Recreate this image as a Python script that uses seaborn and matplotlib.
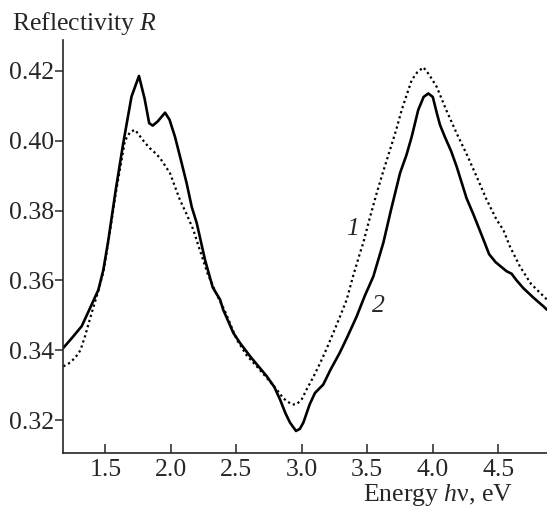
import matplotlib
matplotlib.use("Agg")
import matplotlib.pyplot as plt
import seaborn as sns
import pandas as pd

# Curve 2 (solid)
energy2 = [1.18, 1.256, 1.32, 1.396, 1.447, 1.485, 1.523, 1.58, 1.637, 1.70, 1.757,
           1.80, 1.835, 1.862, 1.90, 1.956, 1.99, 2.032, 2.08, 2.121, 2.16, 2.198,
           2.261, 2.32, 2.376, 2.40, 2.477, 2.528, 2.605, 2.665, 2.732, 2.79, 2.834,
           2.875, 2.91, 2.956, 2.985, 3.012, 3.06, 3.101, 3.164, 3.22, 3.29, 3.35,
           3.419, 3.48, 3.546, 3.622, 3.68, 3.75, 3.80, 3.839, 3.889, 3.93, 3.966,
           4.00, 4.03, 4.055, 4.093, 4.14, 4.182, 4.258, 4.309, 4.36, 4.399, 4.43, 4.48,
           4.564, 4.602, 4.64, 4.691, 4.77, 4.844, 4.872]
refl2 = [0.3407, 0.344, 0.3469, 0.3531, 0.3573, 0.363, 0.3715, 0.386, 0.3993, 0.4126, 0.4185,
         0.412, 0.405, 0.4043, 0.4055, 0.408, 0.406, 0.4011, 0.394, 0.3878, 0.381, 0.3764,
         0.3659, 0.358, 0.3545, 0.3516, 0.345, 0.3421, 0.3383, 0.3356, 0.3326, 0.3295, 0.3259,
         0.322, 0.3193, 0.3169, 0.3175, 0.3193, 0.3245, 0.3278, 0.3302, 0.3345, 0.3393, 0.344,
         0.3497, 0.3555, 0.3611, 0.3707, 0.380, 0.3907, 0.396, 0.4011, 0.4088, 0.4125, 0.4135,
         0.4125, 0.408, 0.4045, 0.401, 0.397, 0.3926, 0.3835, 0.379, 0.3742, 0.3705, 0.3675, 0.3652,
         0.3626, 0.3619, 0.3600, 0.3578, 0.355, 0.3526, 0.3516]

# Curve 1 (dotted)
energy1 = [1.18, 1.22, 1.269, 1.31, 1.345, 1.396, 1.447, 1.485, 1.523, 1.58, 1.65, 1.69,
           1.727, 1.77, 1.80, 1.841, 1.88, 1.918, 1.994, 2.03, 2.07, 2.12, 2.172, 2.21,
           2.28, 2.35, 2.41, 2.503, 2.58, 2.656, 2.73, 2.808, 2.86, 2.923, 2.96, 3.00,
           3.037, 3.09, 3.141, 3.19, 3.241, 3.29, 3.343, 3.39, 3.444, 3.469, 3.52, 3.572,
           3.62, 3.673, 3.72, 3.763, 3.80, 3.839, 3.88, 3.928, 3.97, 4.03, 4.10, 4.182,
           4.26, 4.335, 4.411, 4.488, 4.538, 4.589, 4.665, 4.75, 4.872]
refl1 = [0.3354, 0.3362, 0.3378, 0.340, 0.344, 0.3507, 0.357, 0.3625, 0.371, 0.385, 0.400, 0.4025,
         0.4031, 0.401, 0.3995, 0.3978, 0.3965, 0.395, 0.3907, 0.387, 0.383, 0.379, 0.3745, 0.370,
         0.362, 0.356, 0.3515, 0.3431, 0.3385, 0.3354, 0.3322, 0.3288, 0.3262, 0.3245, 0.3245, 0.326,
         0.3288, 0.3325, 0.3364, 0.3405, 0.345, 0.3495, 0.3545, 0.361, 0.3678, 0.3707, 0.378, 0.3850,
         0.391, 0.3973, 0.403, 0.4088, 0.413, 0.4173, 0.4195, 0.421, 0.419, 0.4154, 0.409, 0.4021,
         0.396, 0.3897, 0.3831, 0.3773, 0.3745, 0.3697, 0.364, 0.359, 0.3545]

x_ticks = [1.5, 2.0, 2.5, 3.0, 3.5, 4.0, 4.5]
x_tick_labels = ["1.5", "2.0", "2.5", "3.0", "3.5", "4.0", "4.5"]
y_ticks = [0.32, 0.34, 0.36, 0.38, 0.40, 0.42]
y_tick_labels = ["0.32", "0.34", "0.36", "0.38", "0.40", "0.42"]

sns.set_style("ticks")
plt.rcParams["font.family"] = ["Liberation Serif", "DejaVu Serif"]
plt.rcParams["mathtext.fontset"] = "custom"
plt.rcParams["mathtext.rm"] = "Liberation Serif"
plt.rcParams["mathtext.it"] = "Liberation Serif:italic"

fig = plt.figure(figsize=(5.47, 5.15), dpi=100)
ax = fig.add_axes([63 / 547, 1 - 453 / 515, 1 - 63 / 547, (453 - 40) / 515])

df1 = pd.DataFrame({"E": energy1, "R": refl1})
df2 = pd.DataFrame({"E": energy2, "R": refl2})
sns.lineplot(data=df1, x="E", y="R", ax=ax, sort=False, color="black",
             linewidth=1.6, linestyle=(0, (1, 1.4)))
sns.lineplot(data=df2, x="E", y="R", ax=ax, sort=False, color="black",
             linewidth=1.9)

ax.set_xlim(1.177, 4.872)
ax.set_ylim(0.3106, 0.4288)
ax.set_xticks(x_ticks)
ax.set_xticklabels(x_tick_labels)
ax.set_yticks(y_ticks)
ax.set_yticklabels(y_tick_labels)
ax.tick_params(axis="x", direction="in", length=6.5, width=1.1, pad=4, labelsize=18.5)
ax.tick_params(axis="y", direction="out", length=5.5, width=1.1, pad=1, labelsize=18.5)
for s in ["top", "right"]:
    ax.spines[s].set_visible(False)
for s in ["left", "bottom"]:
    ax.spines[s].set_linewidth(1.2)
ax.set_xlabel("")
ax.set_ylabel("")

ax.text(3.387, 0.3748, "1", fontsize=18.5, style="italic", ha="center", va="center")
ax.text(3.582, 0.3528, "2", fontsize=18.5, style="italic", ha="center", va="center")

fig.text(12 / 547, 1 - 30 / 515, r"Reflectivity $R$", fontsize=18.5, ha="left", va="baseline")
fig.text(513 / 547, 1 - 501 / 515, r"Energy $h$ν, eV", fontsize=18.5, ha="right", va="baseline")

fig.savefig("out.png", dpi=100)
